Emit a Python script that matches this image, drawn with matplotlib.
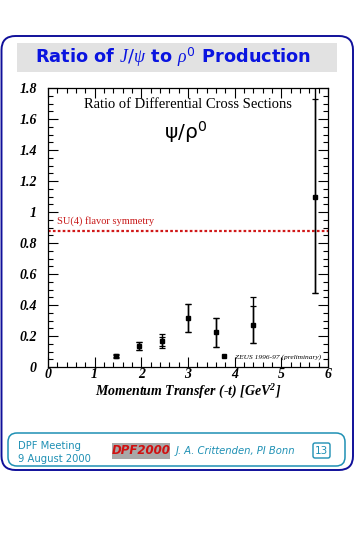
import matplotlib
matplotlib.use("Agg")
import matplotlib.pyplot as plt
from matplotlib.patches import FancyBboxPatch, Rectangle
from matplotlib.lines import Line2D
import numpy as np

# ---- data ----
t_vals = [1.45, 1.95, 2.45, 3.0, 3.6, 4.4, 5.72]
ratio = [0.072, 0.135, 0.168, 0.318, 0.224, 0.271, 1.10]
tot_lo = [0.012, 0.025, 0.048, 0.092, 0.092, 0.118, 0.625]
tot_hi = [0.012, 0.024, 0.047, 0.088, 0.094, 0.180, 0.750]
stat_lo = [0.008, 0.025, 0.031, 0.092, 0.092, 0.118, 0.625]
stat_hi = [0.008, 0.024, 0.027, 0.088, 0.094, 0.120, 0.630]
su4_level = 0.88
x_ticks = [0, 1, 2, 3, 4, 5, 6]
y_ticks = [0, 0.2, 0.4, 0.6, 0.8, 1, 1.2, 1.4, 1.6, 1.8]
y_tick_labels = ["0", "0.2", "0.4", "0.6", "0.8", "1", "1.2", "1.4", "1.6", "1.8"]

plt.rcParams["mathtext.fontset"] = "custom"
plt.rcParams["mathtext.rm"] = "DejaVu Sans"
plt.rcParams["mathtext.it"] = "Liberation Serif:italic"
plt.rcParams["mathtext.bf"] = "Liberation Serif:bold:italic"

W, H = 363, 535
fig = plt.figure(figsize=(W / 100, H / 100), dpi=100)
fig.patch.set_facecolor("white")

# ---- slide background layer (pixel coords) ----
bg = fig.add_axes([0, 0, 1, 1], zorder=0)
bg.set_xlim(0, W)
bg.set_ylim(H, 0)
bg.axis("off")

frame_col = "#10109a"
bg.add_patch(FancyBboxPatch((1.5, 36), 351.5, 434,
                            boxstyle="round,pad=0,rounding_size=14",
                            fc="white", ec=frame_col, lw=1.4))
bg.add_patch(Rectangle((17, 43), 320, 29, fc="#e2e2e2", ec="none"))
bg.text(173, 57.5, r"Ratio of $J/\psi$ to $\rho^0$ Production",
        ha="center", va="center", color="#0a14e0", fontsize=12.8,
        fontweight="bold", family="DejaVu Sans")

teal = "#1e90b4"
bg.add_patch(FancyBboxPatch((8, 433), 337, 33,
                            boxstyle="round,pad=0,rounding_size=9",
                            fc="white", ec=teal, lw=1.1))
bg.text(18, 446, "DPF Meeting", color=teal, fontsize=7.2, va="center",
        family="DejaVu Sans")
bg.text(18, 459, "9 August 2000", color=teal, fontsize=7.2, va="center",
        family="DejaVu Sans")
bg.add_patch(Rectangle((112, 443), 58, 16, fc="#a8a8a8", ec="none"))
bg.text(141, 451, "DPF2000", color="#d01010", fontsize=8.5, va="center",
        ha="center", fontweight="bold", style="italic", family="DejaVu Sans")
bg.text(176, 451, "J. A. Crittenden, PI Bonn", color=teal, fontsize=7.2,
        va="center", style="italic", family="DejaVu Sans")
bg.add_patch(FancyBboxPatch((313, 443), 17, 15,
                            boxstyle="round,pad=0,rounding_size=2",
                            fc="white", ec=teal, lw=1.0))
bg.text(321.5, 451, "13", color=teal, fontsize=7.5, va="center", ha="center",
        family="DejaVu Sans")

# ---- main plot ----
ax = fig.add_axes([48 / W, 1 - 367 / H, 280 / W, 279 / H], zorder=2)
ax.set_xlim(0, 6)
ax.set_ylim(0, 1.8)

serif = ["Liberation Serif", "DejaVu Serif"]
ax.set_xticks(x_ticks)
ax.set_xticklabels([str(v) for v in x_ticks], family=serif,
                   fontweight="bold", style="italic", fontsize=10)
ax.set_yticks(y_ticks)
ax.set_yticklabels(y_tick_labels, family=serif, fontweight="bold",
                   style="italic", fontsize=10)
ax.set_xticks(np.arange(0, 6.01, 0.2), minor=True)
ax.set_yticks(np.arange(0, 1.801, 0.05), minor=True)
ax.tick_params(which="both", direction="in", top=True, right=True,
               width=0.8, color="black")
ax.tick_params(which="major", length=7)
ax.tick_params(which="minor", length=3.5)
ax.tick_params(axis="x", pad=1)
ax.tick_params(axis="y", pad=8)
for s in ax.spines.values():
    s.set_linewidth(0.9)

ax.set_xlabel(r"Momentum Transfer (-t) [GeV$^{\mathbf{2}}$]", family=serif,
              fontweight="bold", style="italic", fontsize=10, labelpad=1)

ax.axhline(su4_level, color="#d01818", lw=1.6, ls=(0, (1.2, 1.0)))
ax.text(0.2, su4_level + 0.03, "SU(4) flavor symmetry", color="#c81818",
        family=serif, fontsize=7.5, va="bottom")

ax.errorbar(t_vals, ratio, yerr=[tot_lo, tot_hi], fmt="none", ecolor="black",
            elinewidth=1.0, capsize=2.5, capthick=0.9)
ax.errorbar(t_vals, ratio, yerr=[stat_lo, stat_hi], fmt="s", color="black",
            ms=3.0, elinewidth=1.0, capsize=2.5, capthick=0.9)

ax.text(0.5, 0.965, "Ratio of Differential Cross Sections", transform=ax.transAxes,
        ha="center", va="top", family=serif, fontsize=10.5)
ax.text(0.49, 0.84, r"ψ/ρ$^{\mathrm{0}}$", transform=ax.transAxes, ha="center",
        va="center", family="DejaVu Sans", fontsize=14.5)

handle = Line2D([], [], marker="s", ls="none", color="black", ms=3.5)
ax.legend([handle], ["ZEUS 1996-97 (preliminary)"], loc="lower right",
          frameon=False, handlelength=1.0, handletextpad=0.9,
          borderaxespad=0.6,
          prop={"family": serif, "style": "italic", "size": 5.3})

fig.savefig("out.png", dpi=100, facecolor="white")
